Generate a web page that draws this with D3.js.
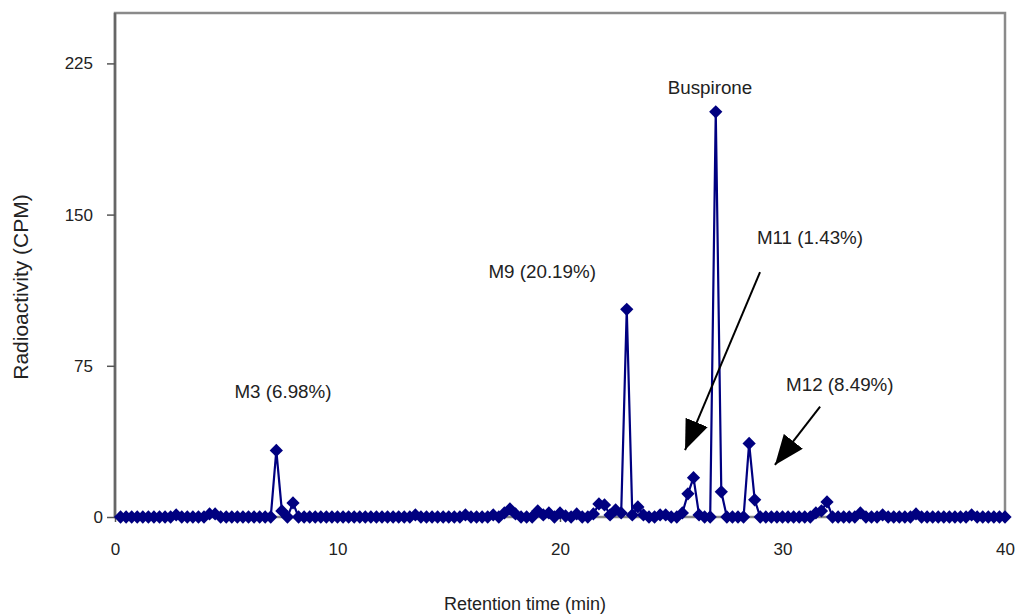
<!DOCTYPE html>
<html>
<head>
<meta charset="utf-8">
<style>
body { margin: 0; background: #fff; }
text { font-family: "Liberation Sans", Arial, sans-serif; fill: #222; }
.axis path { display: none; }
.axis line { stroke: #555; stroke-width: 1.5; }
.axis text { font-size: 17px; }
</style>
</head>
<body>
<svg width="1020" height="615"></svg>
<script src="https://cdn.jsdelivr.net/npm/d3@7"></script>
<script>
// retention time (min), one fraction every 0.25 min
var times = [
  0.25, 0.5, 0.75, 1, 1.25, 1.5, 1.75, 2, 2.25, 2.5,
  2.75, 3, 3.25, 3.5, 3.75, 4, 4.25, 4.5, 4.75, 5,
  5.25, 5.5, 5.75, 6, 6.25, 6.5, 6.75, 7, 7.25, 7.5,
  7.75, 8, 8.25, 8.5, 8.75, 9, 9.25, 9.5, 9.75, 10,
  10.25, 10.5, 10.75, 11, 11.25, 11.5, 11.75, 12, 12.25, 12.5,
  12.75, 13, 13.25, 13.5, 13.75, 14, 14.25, 14.5, 14.75, 15,
  15.25, 15.5, 15.75, 16, 16.25, 16.5, 16.75, 17, 17.25, 17.5,
  17.75, 18, 18.25, 18.5, 18.75, 19, 19.25, 19.5, 19.75, 20,
  20.25, 20.5, 20.75, 21, 21.25, 21.5, 21.75, 22, 22.25, 22.5,
  22.75, 23, 23.25, 23.5, 23.75, 24, 24.25, 24.5, 24.75, 25,
  25.25, 25.5, 25.75, 26, 26.25, 26.5, 26.75, 27, 27.25, 27.5,
  27.75, 28, 28.25, 28.5, 28.75, 29, 29.25, 29.5, 29.75, 30,
  30.25, 30.5, 30.75, 31, 31.25, 31.5, 31.75, 32, 32.25, 32.5,
  32.75, 33, 33.25, 33.5, 33.75, 34, 34.25, 34.5, 34.75, 35,
  35.25, 35.5, 35.75, 36, 36.25, 36.5, 36.75, 37, 37.25, 37.5,
  37.75, 38, 38.25, 38.5, 38.75, 39, 39.25, 39.5, 39.75, 40
];
// radioactivity (CPM)
var cpm = [
  0, 0, 0, 0, 0, 0, 0, 0, 0, 0,
  1, 0, 0, 0, 0, 0, 1.5, 1.5, 0, 0,
  0, 0, 0, 0, 0, 0, 0, 0, 33, 3,
  0, 7, 0, 0, 0, 0, 0, 0, 0, 0,
  0, 0, 0, 0, 0, 0, 0, 0, 0, 0,
  0, 0, 0, 1, 0, 0, 0, 0, 0, 0,
  0, 0, 1, 0, 0, 0, 0, 1, 0, 2,
  4, 1.5, 0, 0, 0, 3, 1, 2, 0, 2,
  0.5, 0, 1.5, 0, 0, 1.5, 6.5, 6, 1, 3.5,
  2, 103, 1, 5, 1, 0, 0, 1, 1, 0,
  0, 2, 11.5, 19.5, 1, 0, 0, 201, 12.5, 0,
  0, 0, 0, 36.5, 8.5, 0, 0, 0, 0, 0,
  0, 0, 0, 0, 0, 2, 3, 7.5, 0, 0,
  0, 0, 0, 2, 0, 0, 0, 1, 0, 0,
  0, 0, 0, 1.5, 0, 0, 0, 0, 0, 0,
  0, 0, 0, 1, 0, 0, 0, 0, 0, 0
];
var xTicks = [0, 10, 20, 30, 40];
var yTicks = [0, 75, 150, 225];
// peak labels: [text, time, cpm, anchor]
var labels = [
  ["Buspirone", 26.74, 210, "middle"],
  ["M9 (20.19%)", 19.2, 118.5, "middle"],
  ["M3 (6.98%)", 7.55, 59, "middle"],
  ["M11 (1.43%)", 28.85, 135.5, "start"],
  ["M12 (8.49%)", 30.16, 62.5, "start"]
];
// arrows: [fromTime, fromCpm, toTime, toCpm]
var arrows = [
  [28.99, 121.5, 25.62, 33.2],
  [31.69, 54.7, 29.66, 25.8]
];

var svg = d3.select("svg"),
    margin = {top: 13, right: 15, bottom: 98, left: 115},
    width = +svg.attr("width") - margin.left - margin.right,
    height = +svg.attr("height") - margin.top - margin.bottom,
    g = svg.append("g").attr("transform", "translate(" + margin.left + "," + margin.top + ")");

var x = d3.scaleLinear().domain([0, 40]).range([0, width]);
var y = d3.scaleLinear().domain([0, 250]).range([height, 0]);

// frame
g.append("rect")
    .attr("width", width)
    .attr("height", height)
    .attr("fill", "none")
    .attr("stroke", "#8a8a8a")
    .attr("stroke-width", 2.5);
g.append("line")
    .attr("y1", 0).attr("y2", height)
    .attr("stroke", "#666").attr("stroke-width", 2.5);

var yAxis = g.append("g")
    .attr("class", "axis")
    .call(d3.axisLeft(y).tickValues(yTicks).tickSize(8).tickPadding(14));
// the zero label sits closer to the axis in the original
yAxis.selectAll(".tick text").filter(function(d) { return d === 0; }).attr("x", -12);

g.append("g")
    .attr("class", "axis")
    .attr("transform", "translate(0," + height + ")")
    .call(d3.axisBottom(x).tickValues(xTicks).tickSize(5).tickPadding(21));

var pts = times.map(function(t, i) { return [t, cpm[i]]; });

g.append("path")
    .datum(pts)
    .attr("fill", "none")
    .attr("stroke", "#000080")
    .attr("stroke-width", 2.2)
    .attr("d", d3.line().x(function(d) { return x(d[0]); }).y(function(d) { return y(d[1]); }));

g.selectAll(".pt")
    .data(pts)
    .enter().append("path")
      .attr("class", "pt")
      .attr("fill", "#000080")
      .attr("d", d3.symbol(d3.symbolSquare, 88))
      .attr("transform", function(d) { return "translate(" + x(d[0]) + "," + y(d[1]) + ") rotate(45)"; });

// annotations
svg.append("defs").append("marker")
    .attr("id", "head")
    .attr("viewBox", "0 -12 30 24")
    .attr("refX", 30)
    .attr("refY", 0)
    .attr("markerWidth", 30)
    .attr("markerHeight", 24)
    .attr("markerUnits", "userSpaceOnUse")
    .attr("orient", "auto")
  .append("path")
    .attr("d", "M0,-12L30,0L0,12Z")
    .attr("fill", "#000");

g.selectAll(".arrow")
    .data(arrows)
    .enter().append("line")
      .attr("class", "arrow")
      .attr("x1", function(d) { return x(d[0]); })
      .attr("y1", function(d) { return y(d[1]); })
      .attr("x2", function(d) { return x(d[2]); })
      .attr("y2", function(d) { return y(d[3]); })
      .attr("stroke", "#000")
      .attr("stroke-width", 2)
      .attr("marker-end", "url(#head)");

g.selectAll(".lbl")
    .data(labels)
    .enter().append("text")
      .attr("class", "lbl")
      .attr("x", function(d) { return x(d[1]); })
      .attr("y", function(d) { return y(d[2]); })
      .attr("text-anchor", function(d) { return d[3]; })
      .style("font-size", "18.8px")
      .text(function(d) { return d[0]; });

svg.append("text")
    .attr("x", margin.left + width / 2 - 35)
    .attr("y", 610)
    .attr("text-anchor", "middle")
    .style("font-size", "18px")
    .text("Retention time (min)");

svg.append("text")
    .attr("transform", "translate(28," + 287 + ") rotate(-90)")
    .attr("text-anchor", "middle")
    .style("font-size", "21px")
    .text("Radioactivity (CPM)");
</script>
</body>
</html>
